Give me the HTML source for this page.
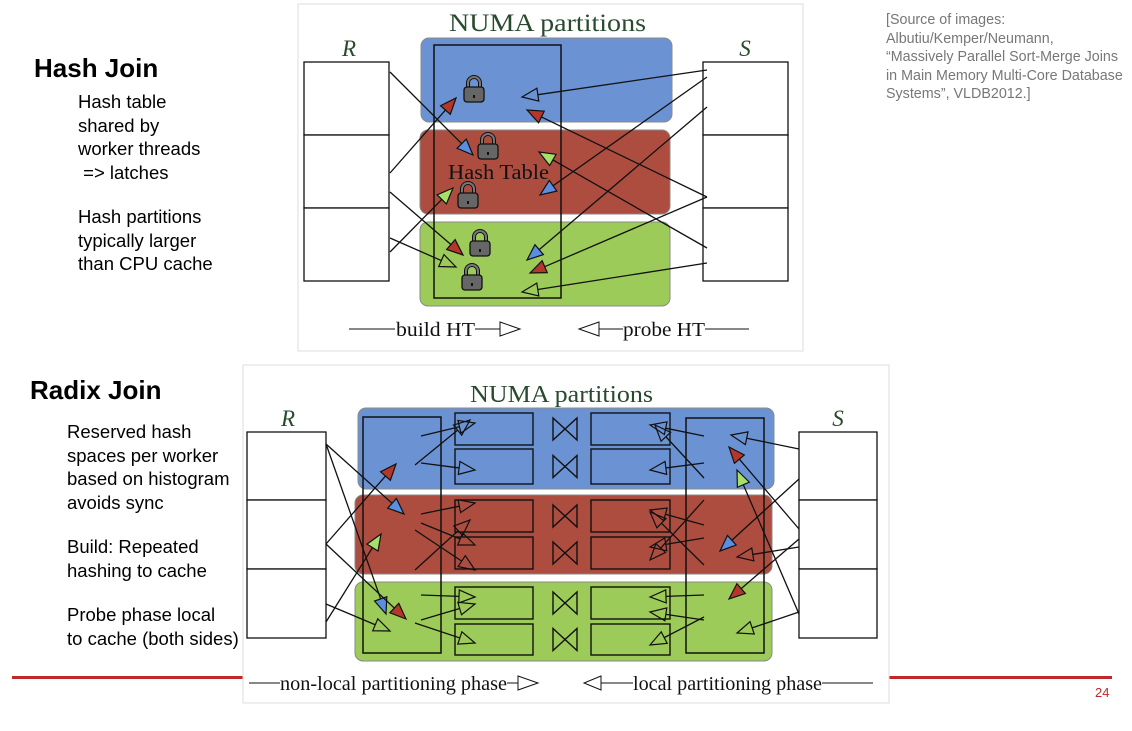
<!DOCTYPE html>
<html><head><meta charset="utf-8"><style>
body{margin:0;width:1132px;height:731px;background:#fff;position:relative;overflow:hidden;font-family:"Liberation Sans",sans-serif}
.t{position:absolute;color:#000;font-size:18.5px;line-height:23.5px}
.h{position:absolute;font-weight:bold;font-size:26px}
.src{position:absolute;left:886px;top:11px;color:#777;font-size:14.3px;line-height:18.5px}
</style></head><body>
<div class="h" style="left:34px;top:53px">Hash Join</div>
<div class="t" style="left:78px;top:90px">Hash table<br>shared by<br>worker threads<br>&nbsp;=&gt; latches<br><div style="height:21px"></div>Hash partitions<br>typically larger<br>than CPU cache</div>
<div class="h" style="left:30px;top:375px">Radix Join</div>
<div class="t" style="left:67px;top:420px">Reserved hash<br>spaces per worker<br>based on histogram<br>avoids sync<br><div style="height:21px"></div>Build: Repeated<br>hashing to cache<br><div style="height:21px"></div>Probe phase local<br>to cache (both sides)</div>
<div class="src">[Source of images:<br>Albutiu/Kemper/Neumann,<br>“Massively Parallel Sort-Merge Joins<br>in Main Memory Multi-Core Database<br>Systems”, VLDB2012.]</div>
<div style="position:absolute;left:12px;top:676px;width:1100px;height:3px;background:#c0282d"></div>
<div style="position:absolute;left:1095px;top:685px;color:#c0282d;font-size:13px">24</div>

<svg id="svg" width="1132" height="731" style="position:absolute;left:0;top:0" font-family="Liberation Serif, serif">
<g>
<rect x="298" y="4" width="505" height="347" fill="#fff" stroke="#ddd"/>
<text x="449" y="31" textLength="197" lengthAdjust="spacingAndGlyphs" font-size="25" fill="#2a4a30">NUMA partitions</text>
<text x="349" y="56" text-anchor="middle" font-size="23" font-style="italic" fill="#2a4a30">R</text>
<text x="745" y="56" text-anchor="middle" font-size="23" font-style="italic" fill="#2a4a30">S</text>
<rect x="421" y="38" width="251" height="84" rx="8" fill="#6b93d4" stroke="#888"/>
<rect x="420" y="130" width="250" height="84" rx="8" fill="#ad4d40" stroke="#888"/>
<rect x="420" y="222" width="250" height="84" rx="8" fill="#9ccb59" stroke="#888"/>
<rect x="434" y="45" width="127" height="253" fill="none" stroke="#111" stroke-width="1.5"/>
<text x="448" y="179" textLength="101" lengthAdjust="spacingAndGlyphs" font-size="21" fill="#111">Hash Table</text>
<g fill="#fff" stroke="#111" stroke-width="1.3"><rect x="304" y="62" width="85" height="73"/><rect x="304" y="135" width="85" height="73"/><rect x="304" y="208" width="85" height="73"/></g>
<g fill="#fff" stroke="#111" stroke-width="1.3"><rect x="703" y="62" width="85" height="73"/><rect x="703" y="135" width="85" height="73"/><rect x="703" y="208" width="85" height="73"/></g>
<g id="locks"></g>
<g id="arrTop"></g>
<g font-size="20" fill="#111">
<line x1="349" y1="329" x2="395" y2="329" stroke="#111"/><text x="396" y="336" textLength="79" lengthAdjust="spacingAndGlyphs">build HT</text><line x1="475" y1="329" x2="500" y2="329" stroke="#111"/><polygon points="500,322 520,329 500,336" fill="none" stroke="#111"/>
<polygon points="599,322 579,329 599,336" fill="none" stroke="#111"/><line x1="599" y1="329" x2="623" y2="329" stroke="#111"/><text x="623" y="336" textLength="82" lengthAdjust="spacingAndGlyphs">probe HT</text><line x1="705" y1="329" x2="749" y2="329" stroke="#111"/>
</g>
</g>

<g>
<rect x="243" y="365" width="646" height="338" fill="#fff" stroke="#ddd"/>
<text x="470" y="402" textLength="183" lengthAdjust="spacingAndGlyphs" font-size="24" fill="#2a4a30">NUMA partitions</text>
<text x="288" y="426" text-anchor="middle" font-size="23" font-style="italic" fill="#2a4a30">R</text>
<text x="838" y="426" text-anchor="middle" font-size="23" font-style="italic" fill="#2a4a30">S</text>
<rect x="358" y="408" width="416" height="81" rx="8" fill="#6b93d4" stroke="#888"/>
<rect x="355" y="495" width="417" height="79" rx="8" fill="#ad4d40" stroke="#888"/>
<rect x="355" y="582" width="417" height="79" rx="8" fill="#9ccb59" stroke="#888"/>
<rect x="363" y="417" width="78" height="236" fill="none" stroke="#111" stroke-width="1.5"/>
<rect x="686" y="418" width="78" height="235" fill="none" stroke="#111" stroke-width="1.5"/>
<g id="small"></g>
<g fill="#fff" stroke="#111" stroke-width="1.3"><rect x="247" y="432" width="79" height="68"/><rect x="247" y="500" width="79" height="69"/><rect x="247" y="569" width="79" height="69"/></g>
<g fill="#fff" stroke="#111" stroke-width="1.3"><rect x="799" y="432" width="78" height="68"/><rect x="799" y="500" width="78" height="69"/><rect x="799" y="569" width="78" height="69"/></g>
<g id="arrBot"></g>
<g font-size="20" fill="#111">
<line x1="249" y1="683" x2="280" y2="683" stroke="#111"/><text x="280" y="690" textLength="227" lengthAdjust="spacingAndGlyphs">non-local partitioning phase</text><line x1="507" y1="683" x2="518" y2="683" stroke="#111"/><polygon points="518,676 538,683 518,690" fill="none" stroke="#111"/>
<polygon points="601,676 584,683 601,690" fill="none" stroke="#111"/><line x1="601" y1="683" x2="633" y2="683" stroke="#111"/><text x="633" y="690" textLength="189" lengthAdjust="spacingAndGlyphs">local partitioning phase</text><line x1="822" y1="683" x2="873" y2="683" stroke="#111"/>
</g>
</g>
</svg>
<script>
const NS='http://www.w3.org/2000/svg';
const lockPos=[[474,90],[488,147],[468,196],[480,244],[472,278]];
const COL={b:'#5b8de0',r:'#b5372c',g:'#a6e06a',h:'none'};
const topArrows=[[390,72,473,155,'b'],[390,173,456,98,'r'],[390,192,463,255,'r'],[390,252,453,188,'g'],[390,238,456,267,'h'],
[707,70,522,97,'h'],[707,77,540,195,'b'],[707,107,527,260,'b'],[707,197,527,110,'r'],[707,197,530,273,'r'],[707,248,539,152,'g'],[707,263,522,292,'h']];
const botArrows=[[326,444,404,514,'b'],[326,444,386,614,'b'],[326,544,396,464,'r'],[326,544,406,619,'r'],[326,622,381,534,'g'],[326,604,390,631,'h'],
[799,449,731,435,'h'],[799,479,720,551,'b'],[799,529,729,447,'r'],[799,547,737,557,'h'],[799,539,729,599,'r'],[799,614,737,470,'g'],[799,612,737,633,'h'],
[421,436,475,423,'h'],[421,463,475,470,'h'],[421,514,475,503,'h'],[421,523,475,545,'h'],[421,595,475,597,'h'],[421,620,475,604,'h'],
[415,465,470,420,'h'],[415,530,475,570,'h'],[415,570,470,520,'h'],[415,623,475,643,'h'],
[704,436,650,425,'h'],[704,463,650,470,'h'],[704,525,650,510,'h'],[704,538,650,547,'h'],[704,595,650,597,'h'],[704,620,650,612,'h'],
[704,478,655,425,'h'],[704,565,650,512,'h'],[704,500,650,560,'h'],[704,617,650,645,'h']];
const smallRows=[[413,445],[449,484],[500,532],[537,569],[587,619],[624,655]];
function arrow(g,a){
  const [x1,y1,x2,y2,c]=a;const dx=x2-x1,dy=y2-y1,L=Math.hypot(dx,dy),ux=dx/L,uy=dy/L;
  const bx=x2-ux*16,by=y2-uy*16,px=-uy*6.5,py=ux*6.5;
  const ln=document.createElementNS(NS,'line');
  
  
  ln.setAttribute('x1',x1);ln.setAttribute('y1',y1);ln.setAttribute('x2',bx);ln.setAttribute('y2',by);
  ln.setAttribute('stroke','#111');ln.setAttribute('stroke-width','1.3');g.appendChild(ln);
  const p=document.createElementNS(NS,'polygon');
  
  
  p.setAttribute('points',`${x2},${y2} ${bx+px},${by+py} ${bx-px},${by-py}`);
  p.setAttribute('fill',COL[c]);p.setAttribute('stroke','#111');p.setAttribute('stroke-width','1.2');g.appendChild(p);
}
const gt=document.getElementById('arrTop');topArrows.forEach(a=>arrow(gt,a));
const gb=document.getElementById('arrBot');botArrows.forEach(a=>arrow(gb,a));
const gl=document.getElementById('locks');
lockPos.forEach(([x,y])=>{
  const g=document.createElementNS(NS,'g');
  
  
  g.innerHTML=`<path d="M${x-6},${y-2} v-5 a6,6 0 0 1 12,0 v5" fill="none" stroke="#111" stroke-width="4"/><path d="M${x-6},${y-2} v-5 a6,6 0 0 1 12,0 v5" fill="none" stroke="#777" stroke-width="2"/><rect x="${x-10}" y="${y-3}" width="20" height="15" rx="3" fill="#666" stroke="#111" stroke-width="1.3"/><rect x="${x-1}" y="${y+5}" width="2" height="3" fill="#111"/>`;
  gl.appendChild(g);
});
const gs=document.getElementById('small');
smallRows.forEach(([a,b])=>{
  const g=document.createElementNS(NS,'g');
  
  
  const m=(a+b)/2;
  g.innerHTML=`<rect x="455" y="${a}" width="78" height="${b-a}" fill="none" stroke="#111" stroke-width="1.4"/><rect x="591" y="${a}" width="79" height="${b-a}" fill="none" stroke="#111" stroke-width="1.4"/><path d="M553,${m-11} L553,${m+11} L577,${m-11} L577,${m+11} Z" fill="none" stroke="#111" stroke-width="1.4"/>`;
  gs.appendChild(g);
});
</script>
</body></html>
